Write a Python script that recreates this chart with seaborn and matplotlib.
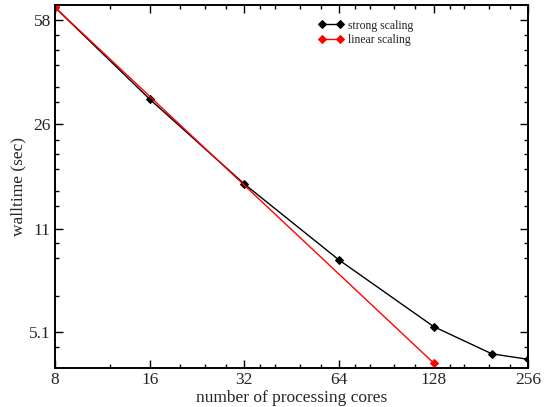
import numpy as np
import pandas as pd
import matplotlib
matplotlib.use("Agg")
import matplotlib.pyplot as plt
from matplotlib.ticker import FixedLocator, FixedFormatter, NullFormatter
import seaborn as sns

# Walltime measurements for the strong-scaling run
strong_cores = [8, 16, 32, 64, 128, 196, 256]
strong_time = [64.2, 31.4, 16.2, 8.96, 5.33, 4.31, 4.13]

# Ideal (linear) scaling reference from 8 to 128 cores
linear_cores = [8, 128]
linear_time = [64.2, 4.01]

# Axis ticks
x_ticks = [8, 16, 32, 64, 128, 256]
x_tick_labels = ["8", "16", "32", "64", "128", "256"]
x_minor = [12, 20, 24, 28, 36, 40, 48, 56, 72, 80, 96, 112, 144, 160, 192, 224]
y_ticks = [5.1, 11.45, 25.8, 58.0]
y_tick_labels = ["5.1", "11", "26", "58"]
y_minor = [4.54, 6.78, 9.08, 10.2, 13.6, 15.3, 18.2, 20.4, 22.9,
           30.6, 34.4, 40.9, 46.1, 51.8]

sns.set_theme(style="ticks")
plt.rcParams["font.family"] = ["Liberation Serif", "DejaVu Serif"]
plt.rcParams["mathtext.fontset"] = "stix"

fig = plt.figure(figsize=(5.47, 4.07), dpi=100)
ax = fig.add_axes([0.1005, 0.0958, 0.8655, 0.8919])

strong = pd.DataFrame({"cores": strong_cores, "walltime": strong_time})
linear = pd.DataFrame({"cores": linear_cores, "walltime": linear_time})

sns.lineplot(data=strong, x="cores", y="walltime", ax=ax, color="black",
             marker="D", markersize=4.3, markeredgecolor="black",
             linewidth=1.0, label="strong scaling")
sns.lineplot(data=linear, x="cores", y="walltime", ax=ax, color="red",
             marker="D", markersize=4.3, markeredgecolor="red",
             linewidth=1.0, label="linear scaling")

ax.set_xscale("log")
ax.set_yscale("log")
ax.set_xlim(8, 256)
ax.set_ylim(3.86, 65.4)

ax.xaxis.set_major_locator(FixedLocator(x_ticks))
ax.xaxis.set_major_formatter(FixedFormatter(x_tick_labels))
ax.xaxis.set_minor_locator(FixedLocator(x_minor))
ax.xaxis.set_minor_formatter(NullFormatter())
ax.yaxis.set_major_locator(FixedLocator(y_ticks))
ax.yaxis.set_major_formatter(FixedFormatter(y_tick_labels))
ax.yaxis.set_minor_locator(FixedLocator(y_minor))
ax.yaxis.set_minor_formatter(NullFormatter())

ax.tick_params(which="both", direction="in", top=True, right=True,
               color="black", labelsize=12.5, pad=3)
ax.tick_params(which="major", length=6, width=1.0)
ax.tick_params(which="minor", length=3, width=1.0)
for s in ax.spines.values():
    s.set_linewidth(1.4)
    s.set_color("black")

ax.set_xlabel("number of processing cores", fontsize=12.5, labelpad=1)
ax.set_ylabel("walltime (sec)", fontsize=12.5, labelpad=2)

leg = ax.legend(loc="upper left", bbox_to_anchor=(0.557, 0.96),
                frameon=False, fontsize=8.4, numpoints=2,
                handlelength=2.1, handletextpad=0.4, labelspacing=0.25,
                borderpad=0, borderaxespad=0)
for t in leg.get_texts():
    t.set_color("#222222")

fig.savefig("out.png", dpi=100)
